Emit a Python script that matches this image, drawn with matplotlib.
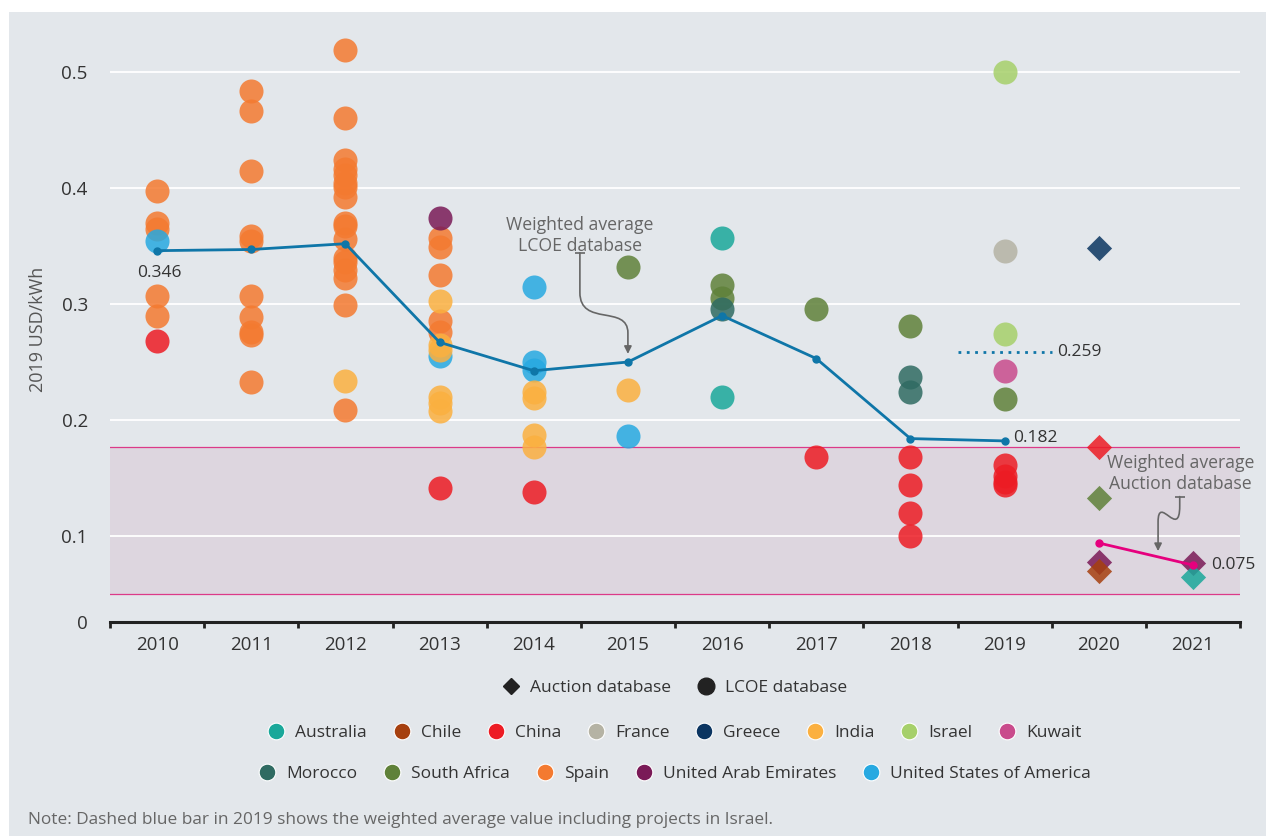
import matplotlib.pyplot as plt
from matplotlib.lines import Line2D
from matplotlib.patches import FancyArrowPatch, Rectangle
from matplotlib.path import Path

plt.rcParams['font.family'] = ['Open Sans', 'DejaVu Sans']

years = list(range(2010, 2022))

# LCOE database projects: (year, 2019 USD/kWh)
spain = [(2010, 0.397), (2010, 0.370), (2010, 0.365), (2010, 0.307), (2010, 0.290),
         (2011, 0.484), (2011, 0.466), (2011, 0.415), (2011, 0.359), (2011, 0.354),
         (2011, 0.307), (2011, 0.289), (2011, 0.276), (2011, 0.273), (2011, 0.233),
         (2012, 0.519), (2012, 0.460), (2012, 0.424), (2012, 0.416), (2012, 0.411),
         (2012, 0.404), (2012, 0.401), (2012, 0.392), (2012, 0.370), (2012, 0.367),
         (2012, 0.356), (2012, 0.340), (2012, 0.336), (2012, 0.329), (2012, 0.322),
         (2012, 0.299), (2012, 0.209),
         (2013, 0.357), (2013, 0.349), (2013, 0.325), (2013, 0.285), (2013, 0.276)]
usa = [(2010, 0.354), (2013, 0.255), (2014, 0.315), (2014, 0.250), (2014, 0.243),
       (2015, 0.186)]
india = [(2012, 0.234), (2013, 0.303), (2013, 0.265), (2013, 0.260), (2013, 0.220),
         (2013, 0.215), (2013, 0.208), (2014, 0.224), (2014, 0.219), (2014, 0.187),
         (2014, 0.177), (2015, 0.226)]
china = [(2010, 0.268), (2013, 0.141), (2014, 0.138), (2017, 0.168), (2018, 0.168),
         (2018, 0.144), (2018, 0.120), (2018, 0.0997), (2019, 0.161), (2019, 0.152),
         (2019, 0.147), (2019, 0.144)]
uae = [(2013, 0.374)]
south_africa = [(2015, 0.332), (2016, 0.316), (2016, 0.305), (2017, 0.296),
                (2018, 0.281), (2019, 0.218)]
australia = [(2016, 0.357), (2016, 0.220)]
morocco = [(2016, 0.296), (2018, 0.237), (2018, 0.224)]
israel = [(2019, 0.500), (2019, 0.274)]
france = [(2019, 0.346)]
kuwait = [(2019, 0.2425)]

# Auction database results
auction_greece = [(2020, 0.348)]
auction_china = [(2020, 0.177)]
auction_south_africa = [(2020, 0.133)]
auction_uae = [(2020, 0.078), (2021, 0.077)]
auction_chile = [(2020, 0.070)]
auction_australia = [(2021, 0.065)]

# Weighted averages
lcoe_avg_years = list(range(2010, 2020))
lcoe_avg = [0.346, 0.347, 0.352, 0.267, 0.2425, 0.250, 0.290, 0.253, 0.184, 0.182]
lcoe_avg_israel_2019 = 0.259
auction_avg_years = [2020, 2021]
auction_avg = [0.094, 0.075]
auction_range = (0.0504, 0.177)

colors = {
    'Australia': '#1aa89a',
    'Chile': '#a6400f',
    'China': '#ed1c24',
    'France': '#b5b3a4',
    'Greece': '#0b3561',
    'India': '#fbb040',
    'Israel': '#a6d06a',
    'Kuwait': '#c94b8c',
    'Morocco': '#2f6b62',
    'South Africa': '#5f8139',
    'Spain': '#f47a30',
    'United Arab Emirates': '#7a1a57',
    'United States of America': '#27a9e1',
}

BG = '#e3e7eb'
LINE_BLUE = '#0f76a8'
PINK = '#e6007e'
TEXT = '#333333'
GREY = '#666666'

fig = plt.figure(figsize=(12.66, 8.36), dpi=100, facecolor='white')
fig.patches.append(Rectangle((9 / 1266, 0), 1, 1 - 12 / 836, transform=fig.transFigure,
                             facecolor=BG, edgecolor='none', zorder=-10))

y_bottom, y_top = 0.0259, 0.54
ax = fig.add_axes([110 / 1266, 1 - 622 / 836, 1130 / 1266, (622 - 25.6) / 836])
ax.set_facecolor(BG)
ax.set_xlim(2009.5, 2021.5)
ax.set_ylim(y_bottom, y_top)

# auction range band
ax.axhspan(*auction_range, facecolor='#ddd6df', edgecolor='none', zorder=0)
for v in auction_range:
    ax.axhline(v, color='#dc3a88', lw=0.9, zorder=0.5)

for v in [0.1, 0.2, 0.3, 0.4, 0.5]:
    ax.axhline(v, color='white', lw=1.3, zorder=1)


def scatter(points, name, marker='o', size=300):
    xs = [p[0] for p in points]
    ys = [p[1] for p in points]
    ax.scatter(xs, ys, s=size, marker=marker, color=colors[name], alpha=0.85,
               linewidths=0, zorder=3)


scatter(spain, 'Spain')
scatter(usa, 'United States of America')
scatter(india, 'India')
scatter(china, 'China')
scatter(uae, 'United Arab Emirates')
scatter(south_africa, 'South Africa')
scatter(australia, 'Australia')
scatter(morocco, 'Morocco')
scatter(israel, 'Israel')
scatter(france, 'France')
scatter(kuwait, 'Kuwait')

scatter(auction_greece, 'Greece', 'D', 165)
scatter(auction_china, 'China', 'D', 165)
scatter(auction_south_africa, 'South Africa', 'D', 165)
scatter(auction_uae, 'United Arab Emirates', 'D', 165)
scatter(auction_chile, 'Chile', 'D', 165)
scatter(auction_australia, 'Australia', 'D', 165)

# weighted average lines
ax.plot(lcoe_avg_years, lcoe_avg, color=LINE_BLUE, lw=2, marker='o', ms=5, zorder=5)
ax.hlines(lcoe_avg_israel_2019, 2018.5, 2019.5, color=LINE_BLUE, lw=2,
          linestyles=(0, (1, 2)), zorder=5)
ax.plot(auction_avg_years, auction_avg, color=PINK, lw=2, marker='o', ms=5, zorder=5)

# value labels
ax.text(2010.02, lcoe_avg[0] - 0.019, f'{lcoe_avg[0]:.3f}', ha='center', va='center',
        fontsize=12.5, color=TEXT, zorder=6)
ax.text(2019.09, lcoe_avg[-1] + 0.0025, f'{lcoe_avg[-1]:.3f}', ha='left', va='center',
        fontsize=12.5, color=TEXT, zorder=6)
ax.text(2019.56, lcoe_avg_israel_2019, f'{lcoe_avg_israel_2019:.3f}', ha='left',
        va='center', fontsize=12.5, color=TEXT, zorder=6)
ax.text(2021.19, auction_avg[-1], f'{auction_avg[-1]:.3f}', ha='left', va='center',
        fontsize=12.5, color=TEXT, zorder=6)


def callout(label, text_xy, start, bend_top, bend_bottom, tip):
    ax.text(*text_xy, label, ha='center', va='center', fontsize=12.7, color=GREY,
            linespacing=1.2, zorder=6)
    ax.plot(*start, marker='_', ms=7, mew=1.2, color=GREY, zorder=6)
    verts = [start, bend_top,
             (bend_top[0], bend_top[1] - 0.03), (bend_bottom[0], bend_bottom[1] + 0.025),
             bend_bottom, tip]
    codes = [Path.MOVETO, Path.LINETO, Path.CURVE4, Path.CURVE4, Path.CURVE4, Path.LINETO]
    ax.add_patch(FancyArrowPatch(path=Path(verts, codes), arrowstyle='-|>',
                                 mutation_scale=11, color=GREY, lw=1.2, zorder=6))


callout('Weighted average\nLCOE database', (2014.49, 0.359),
        (2014.49, 0.344), (2014.49, 0.310), (2015.0, 0.275), (2015.0, 0.257))
callout('Weighted average\nAuction database', (2020.87, 0.154),
        (2020.86, 0.134), (2020.86, 0.126), (2020.63, 0.112), (2020.63, 0.087))

# axes styling
for side in ['top', 'right', 'left']:
    ax.spines[side].set_visible(False)
ax.spines['bottom'].set_color('#222222')
ax.spines['bottom'].set_linewidth(2.2)

ax.set_xticks([y - 0.5 for y in years] + [2021.5])
ax.set_xticklabels([])
ax.set_xticks(years, minor=True)
ax.set_xticklabels([str(y) for y in years], minor=True)
ax.tick_params(axis='x', which='major', length=4, width=2, color='#222222')
ax.tick_params(axis='x', which='minor', length=0, pad=10, labelsize=13.5,
               labelcolor=TEXT)

ax.set_yticks([y_bottom, 0.1, 0.2, 0.3, 0.4, 0.5])
ax.set_yticklabels(['0', '0.1', '0.2', '0.3', '0.4', '0.5'])
ax.tick_params(axis='y', length=0, pad=16, labelsize=13.5, labelcolor=TEXT)

fig.text(38 / 1266, 1 - 329 / 836, '2019 USD/kWh', rotation=90, ha='center',
         va='center', fontsize=13, color='#555555')

# legends
type_handles = [
    Line2D([], [], ls='', marker='D', ms=8.5, color='#222222', label='Auction database'),
    Line2D([], [], ls='', marker='o', ms=12, color='#222222', label='LCOE database'),
]
names = list(colors)
rows = [type_handles, names[:8], names[8:]]
row_y = [1 - 688 / 836, 1 - 733 / 836, 1 - 774 / 836]
for row, y in zip(rows, row_y):
    if row is type_handles:
        handles = row
    else:
        handles = [Line2D([], [], ls='', marker='o', ms=12, color=colors[n],
                          markeredgecolor='white', markeredgewidth=0.8, label=n)
                   for n in row]
    fig.legend(handles=handles, loc='center', bbox_to_anchor=(0.533, y),
               ncol=len(handles), frameon=False, fontsize=12.5, handlelength=1,
               handletextpad=0.6, columnspacing=1.5, labelcolor=TEXT)

fig.text(28 / 1266, 1 - 820 / 836,
         'Note: Dashed blue bar in 2019 shows the weighted average value including '
         'projects in Israel.', ha='left', va='center', fontsize=12.4, color=GREY)

fig.savefig('out.png', dpi=100, facecolor=fig.get_facecolor())
